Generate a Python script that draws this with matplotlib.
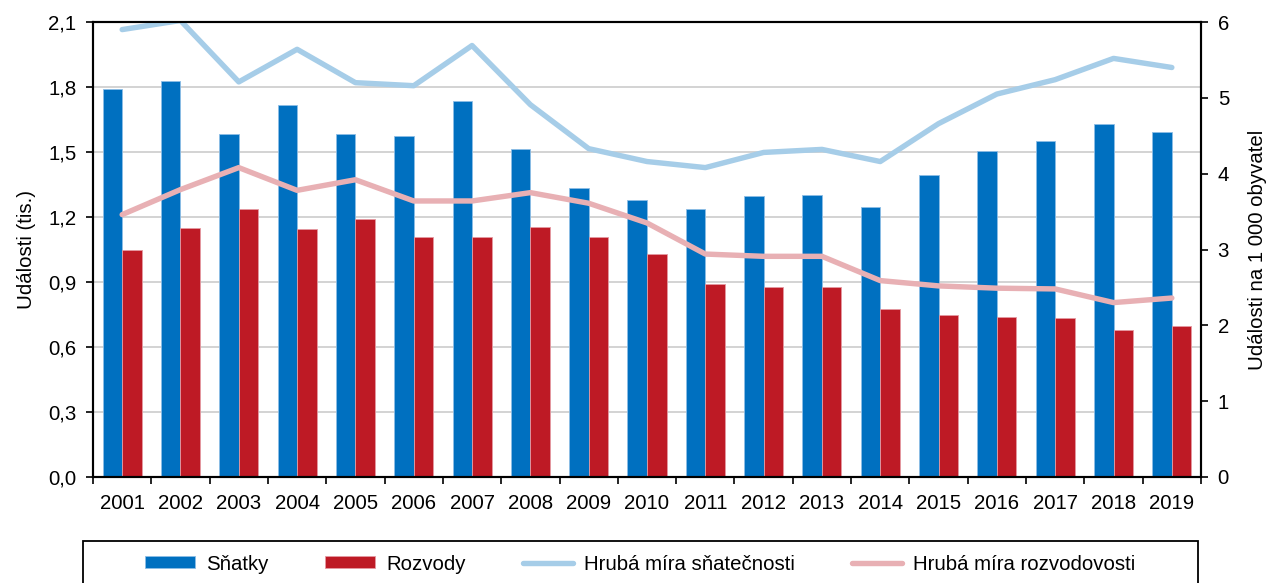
import matplotlib
matplotlib.use("Agg")
import matplotlib.pyplot as plt
from matplotlib.patches import Rectangle
from matplotlib.ticker import FuncFormatter, FixedLocator
import numpy as np

### DATA
years = [str(y) for y in range(2001, 2020)]
snatky = [1.790, 1.827, 1.583, 1.717, 1.583, 1.574, 1.735, 1.514, 1.334, 1.278,
          1.237, 1.297, 1.301, 1.246, 1.394, 1.504, 1.550, 1.629, 1.592]  # tis.
rozvody = [1.048, 1.149, 1.237, 1.144, 1.191, 1.107, 1.110, 1.154, 1.107, 1.029,
           0.891, 0.877, 0.877, 0.775, 0.748, 0.738, 0.734, 0.678, 0.697]  # tis.
mira_snatecnosti = [5.90, 6.02, 5.21, 5.64, 5.20, 5.16, 5.69, 4.91, 4.33, 4.16,
                    4.08, 4.28, 4.32, 4.16, 4.66, 5.05, 5.24, 5.52, 5.40]  # na 1 000 obyv.
mira_rozvodovosti = [3.46, 3.79, 4.08, 3.78, 3.92, 3.64, 3.64, 3.75, 3.61, 3.35,
                     2.94, 2.91, 2.91, 2.59, 2.52, 2.49, 2.48, 2.30, 2.36]  # na 1 000 obyv.
left_ticks = [0.0, 0.3, 0.6, 0.9, 1.2, 1.5, 1.8, 2.1]
right_ticks = [0, 1, 2, 3, 4, 5, 6]

### STYLE
plt.rcParams['font.family'] = ['Liberation Sans', 'DejaVu Sans']
plt.rcParams['font.size'] = 14.7

blue = "#0070C0"
red = "#BE1A25"
light_blue = "#A6CDE8"
pink = "#E8B0B4"

### PLOT
W, H = 1269, 583
fig = plt.figure(figsize=(W / 100, H / 100), dpi=100)
ax = fig.add_axes([93 / W, 1 - 477 / H, (1201 - 93) / W, (477 - 22) / H])

x = np.arange(len(years))
w = 0.335
ax.bar(x - w / 2, snatky, width=w, color=blue, edgecolor="#8DBDE6", linewidth=0.6,
       label="Sňatky", zorder=2)
ax.bar(x + w / 2, rozvody, width=w, color=red, edgecolor="#E59AA2", linewidth=0.6,
       label="Rozvody", zorder=2)

ax.set_xlim(-0.5, len(years) - 0.5)
ax.set_ylim(0, 2.1)
ax.yaxis.set_major_locator(FixedLocator(left_ticks))
ax.yaxis.set_major_formatter(FuncFormatter(lambda v, p: f"{v:.1f}".replace(".", ",")))
ax.grid(axis="y", color="#CCCCCC", linewidth=1.2, zorder=0)
ax.set_axisbelow(True)

# labels centred in categories, tick marks on the boundaries
ax.set_xticks(x)
ax.set_xticklabels(years)
ax.tick_params(axis="x", which="major", length=0, pad=12)
ax.set_xticks(np.arange(-0.5, len(years)), minor=True)
ax.tick_params(axis="x", which="minor", length=5, width=1.2, color="black")
ax.tick_params(axis="y", length=5, width=1.2, pad=7)

for s in ax.spines.values():
    s.set_color("black")
    s.set_linewidth(1.5)

ax.set_ylabel("Události (tis.)", labelpad=9)

ax2 = ax.twinx()
ax2.plot(x, mira_snatecnosti, color=light_blue, linewidth=3.9,
         solid_capstyle="round", solid_joinstyle="round", label="Hrubá míra sňatečnosti")
ax2.plot(x, mira_rozvodovosti, color=pink, linewidth=3.9,
         solid_capstyle="round", solid_joinstyle="round", label="Hrubá míra rozvodovosti")
ax2.set_ylim(0, 6)
ax2.set_yticks(right_ticks)
ax2.tick_params(axis="y", length=5, width=1.2, pad=7)
for s in ax2.spines.values():
    s.set_color("black")
    s.set_linewidth(1.5)
ax2.set_ylabel("Události na 1 000 obyvatel", labelpad=14)

# legend frame (runs off the bottom edge like in the original)
fig.patches.append(Rectangle((83 / W, -0.05), (1198 - 83) / W, 0.05 + 1 - 541 / H,
                             transform=fig.transFigure, fill=False,
                             edgecolor="black", linewidth=1.3))

h1, l1 = ax.get_legend_handles_labels()
h2, l2 = ax2.get_legend_handles_labels()
fig.legend(h1 + h2, l1 + l2, loc="center", bbox_to_anchor=(640 / W, 1 - 564 / H),
           ncol=4, frameon=False, handlelength=2.45, handleheight=0.52,
           handletextpad=0.53, columnspacing=2.8, borderpad=0)

fig.savefig("out.png", dpi=100)
